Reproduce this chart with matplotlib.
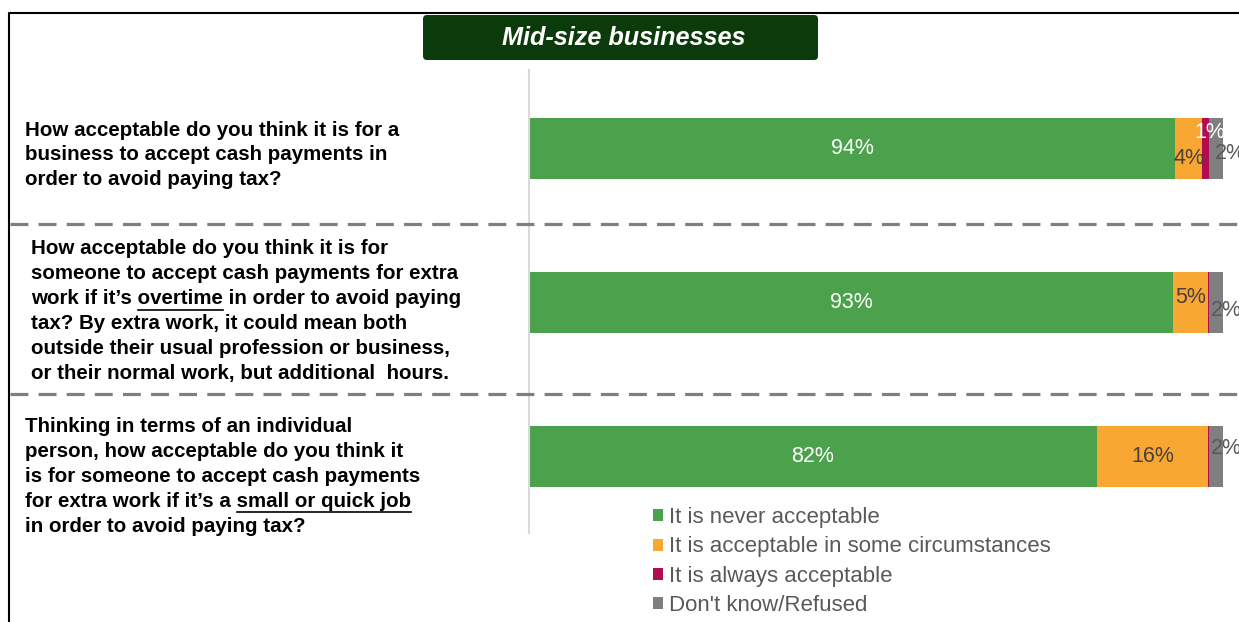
import matplotlib
matplotlib.use('Agg')
import matplotlib.pyplot as plt
from matplotlib.lines import Line2D
from matplotlib.patches import FancyBboxPatch
import numpy as np

# data (percentages as labelled)
questions = [
    ["How acceptable do you think it is for a",
     "business to accept cash payments in",
     "order to avoid paying tax?"],
    ["How acceptable do you think it is for",
     "someone to accept cash payments for extra",
     "work if it\u2019s overtime in order to avoid paying",
     "tax? By extra work, it could mean both",
     "outside their usual profession or business,",
     "or their normal work, but additional  hours."],
    ["Thinking in terms of an individual",
     "person, how acceptable do you think it",
     "is for someone to accept cash payments",
     "for extra work if it\u2019s a small or quick job",
     "in order to avoid paying tax?"],
]
underlined = {(1, 2): "overtime", (2, 3): "small or quick job"}

series_names = ["It is never acceptable",
                "It is acceptable in some circumstances",
                "It is always acceptable",
                "Don't know/Refused"]
never_ok = [94, 93, 82]
sometimes_ok = [4, 5, 16]
always_ok = [1, 0.2, 0.2]
dont_know = [2, 2, 2]

colors = ["#4CA14C", "#F8A733", "#B00E50", "#7F7F7F"]
label_colors = ["white", "#4A4040", "white", "#595959"]

W, H = 1239, 622
def fx(x):
    return x / W
def fy(y):
    return 1 - y / H

plt.rcParams['font.family'] = ['Liberation Sans', 'DejaVu Sans']

fig = plt.figure(figsize=(W / 100, H / 100), dpi=100)
fig.patch.set_facecolor('white')

# bars
ax = fig.add_axes([fx(529), fy(533), 710 / W, 463 / H])
data = np.array([never_ok, sometimes_ok, always_ok, dont_know], dtype=float)
shares = data / data.sum(axis=0) * 100
ypos = np.arange(len(never_ok))
left = np.zeros(len(never_ok))
containers = []
for i in range(len(series_names)):
    c = ax.barh(ypos, shares[i], left=left, height=0.396, color=colors[i],
                label=series_names[i], linewidth=0)
    containers.append(c)
    left += shares[i]

# label nudges in pixels (x, y down) - as placed in the original
nudge = {(0, 1): (0, 10), (0, 2): (4, -16), (0, 3): (6, 5),
         (1, 1): (0, -5), (1, 3): (2, 8),
         (2, 3): (2, -8)}
starts = np.cumsum(shares, axis=0) - shares
for q in range(len(never_ok)):
    for i in range(len(series_names)):
        v = data[i, q]
        if v < 1:
            continue
        dx, dy = nudge.get((q, i), (0, 0))
        if i == 3:
            x = starts[i, q]
            ha = 'left'
        else:
            x = starts[i, q] + shares[i, q] / 2
            ha = 'center'
        ax.annotate(f"{v:.0f}%", (x, ypos[q]), xytext=(dx * 0.72, -dy * 0.72),
                    textcoords='offset points', ha=ha, va='center',
                    fontsize=15.5, color=label_colors[i], annotation_clip=False)

ax.set_xlim(0, 710 / 6.94)
ax.set_ylim(2.497, -0.51)
ax.set_xticks([])
ax.set_yticks([])
for s in ['top', 'right', 'bottom']:
    ax.spines[s].set_visible(False)
ax.spines['left'].set_color('#D9D9D9')
ax.spines['left'].set_linewidth(1.5)
ax.patch.set_alpha(0)

# legend
fig.legend(handles=containers, loc='upper left', bbox_to_anchor=(fx(653), fy(507)),
           frameon=False, fontsize=16, labelcolor='#595959', handlelength=0.45,
           handleheight=0.45, handletextpad=0.28, labelspacing=0.38, borderpad=0,
           borderaxespad=0)

# question texts with underlines
renderer = fig.canvas.get_renderer()
q_first = [130, 249, 427]
q_x = [25, 31, 25]
spacing = 24.8
qsize = 14.8
for q, lines in enumerate(questions):
    for j, line in enumerate(lines):
        y = q_first[q] + j * spacing
        t = fig.text(fx(q_x[q]), fy(y), line, fontsize=qsize, fontweight='bold',
                     color='black', ha='left', va='center')
        word = underlined.get((q, j))
        if word:
            pre = line[:line.index(word)] + word
            tmp = fig.text(0, 0, pre, fontsize=qsize, fontweight='bold')
            wpre = tmp.get_window_extent(renderer).width
            tmp.set_text(word)
            wword = tmp.get_window_extent(renderer).width
            tmp.remove()
            x0 = q_x[q] + wpre - wword
            x1 = q_x[q] + wpre
            fig.add_artist(Line2D([fx(x0), fx(x1)], [fy(y + 11), fy(y + 11)],
                                  transform=fig.transFigure, color='black', lw=1.2))

# dashed separators
for yy in [224, 394]:
    fig.add_artist(Line2D([fx(10), 1], [fy(yy), fy(yy)], transform=fig.transFigure,
                          color='#7F7F7F', lw=2.3, linestyle=(0, (5.6, 3.2))))

# frame
fig.add_artist(Line2D([fx(8.5), fx(8.5), 1], [0, fy(12.5), fy(12.5)],
                      transform=fig.transFigure, color='black', lw=1.5))

# title box
box = FancyBboxPatch((423 / 100, (H - 60) / 100), 395 / 100, 45 / 100,
                     boxstyle="round,pad=0,rounding_size=0.04",
                     transform=fig.dpi_scale_trans, facecolor='#0B3B0B',
                     edgecolor='none')
fig.add_artist(box)
fig.text(fx(624), fy(38), "Mid-size businesses", fontsize=18.2, fontweight='bold',
         fontstyle='italic', color='white', ha='center', va='center')

fig.savefig('out.png', dpi=100)
